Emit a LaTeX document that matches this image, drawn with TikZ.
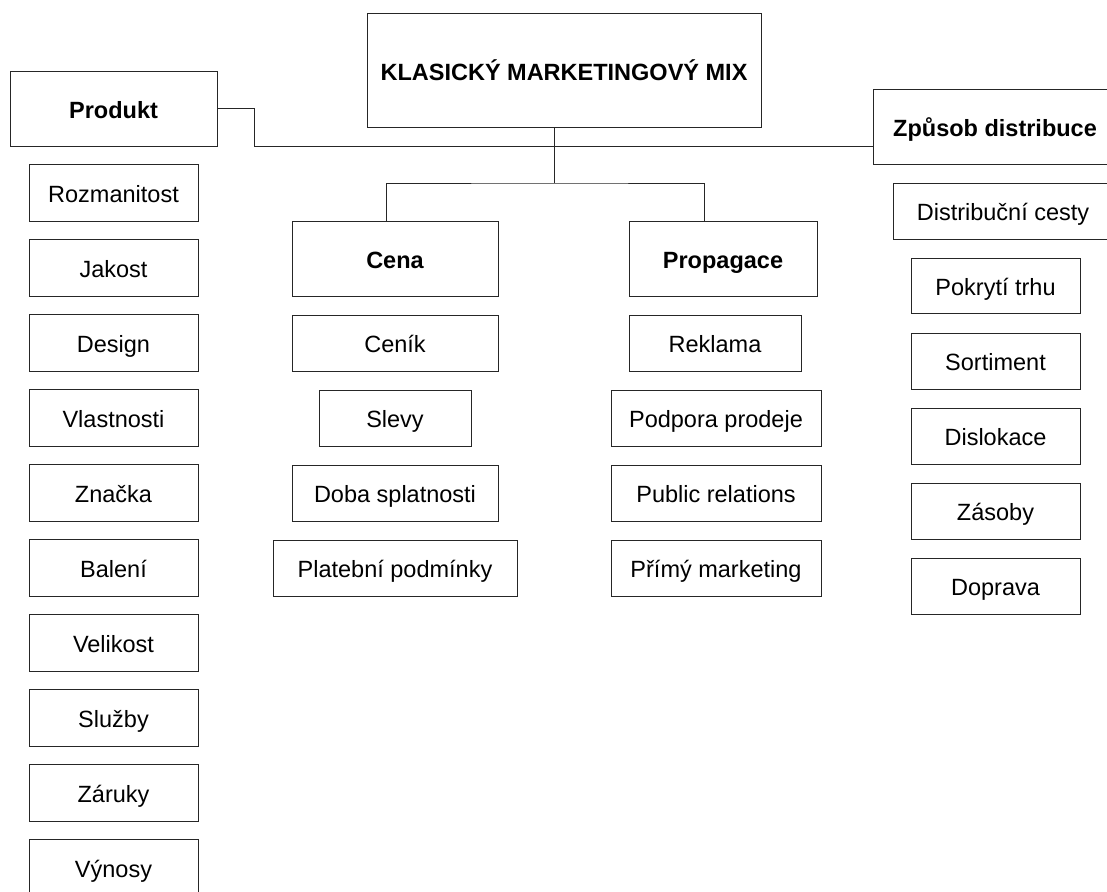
\documentclass[tikz,border=0pt]{standalone}
\usepackage{fontspec}
\setmainfont{Liberation Sans}
\usetikzlibrary{calc}

% \bx{name}{left}{top}{right}{bottom}{style}{text}: a box given by its edges
\newcommand{\bx}[7]{%
  \node[#6, minimum width={(#4-#2)*1pt}, minimum height={(#5-#3)*1pt}]
    (#1) at ({(#2+#4)/2},{(#3+#5)/2}) {#7};}

\begin{document}
\begin{tikzpicture}[x=1pt, y=-1pt,
  cell/.style={draw=black!85, line width=1pt, fill=white, inner sep=0pt,
    text height=21pt, text depth=2pt,
    font=\fontsize{23.5}{28}\selectfont},
  head/.style={cell, font=\fontsize{23.5}{28}\selectfont\bfseries},
  wire/.style={draw=black!85, line width=1pt}]
\useasboundingbox (0,0) rectangle (1107,891);

% top of the hierarchy and the four groups
\bx{mix}{367}{14}{761}{127}{head}{KLASICKÝ MARKETINGOVÝ MIX}
\bx{prod}{10}{71}{217}{146}{head}{Produkt}
\bx{cena}{292}{221}{498}{296}{head}{Cena}
\bx{prop}{629}{221}{817}{296}{head}{Propagace}
\bx{dist}{873}{89}{1117}{164}{head}{Způsob distribuce}

% product items
\bx{p1}{29}{164}{198}{221}{cell}{Rozmanitost}
\bx{p2}{29}{239}{198}{296}{cell}{Jakost}
\bx{p3}{29}{314}{198}{371}{cell}{Design}
\bx{p4}{29}{389}{198}{446}{cell}{Vlastnosti}
\bx{p5}{29}{464}{198}{521}{cell}{Značka}
\bx{p6}{29}{539}{198}{596}{cell}{Balení}
\bx{p7}{29}{614}{198}{671}{cell}{Velikost}
\bx{p8}{29}{689}{198}{746}{cell}{Služby}
\bx{p9}{29}{764}{198}{821}{cell}{Záruky}
\bx{p10}{29}{839}{198}{896}{cell}{Výnosy}

% price items
\bx{c1}{292}{315}{498}{371}{cell}{Ceník}
\bx{c2}{319}{390}{471}{446}{cell}{Slevy}
\bx{c3}{292}{465}{498}{521}{cell}{Doba splatnosti}
\bx{c4}{273}{540}{517}{596}{cell}{Platební podmínky}

% promotion items
\bx{r1}{629}{315}{801}{371}{cell}{Reklama}
\bx{r2}{611}{390}{821}{446}{cell}{Podpora prodeje}
\bx{r3}{611}{465}{821}{521}{cell}{Public relations}
\bx{r4}{611}{540}{821}{596}{cell}{Přímý marketing}

% distribution items
\bx{d1}{893}{183}{1113}{239}{cell}{Distribuční cesty}
\bx{d2}{911}{258}{1080}{313}{cell}{Pokrytí trhu}
\bx{d3}{911}{333}{1080}{389}{cell}{Sortiment}
\bx{d4}{911}{408}{1080}{464}{cell}{Dislokace}
\bx{d5}{911}{483}{1080}{539}{cell}{Zásoby}
\bx{d6}{911}{558}{1080}{614}{cell}{Doprava}

% connectors
\coordinate (bend) at (254,146);
\coordinate (hub) at (554,183);
\draw[wire] (prod.east) -| (bend) -- (dist.west |- bend);
\draw[wire] ([xshift=-10pt]mix.south) -- (hub);
\draw[wire] ([xshift=-9pt]cena.north) |- (hub) -| ([xshift=-19pt]prop.north);
\end{tikzpicture}
\end{document}
